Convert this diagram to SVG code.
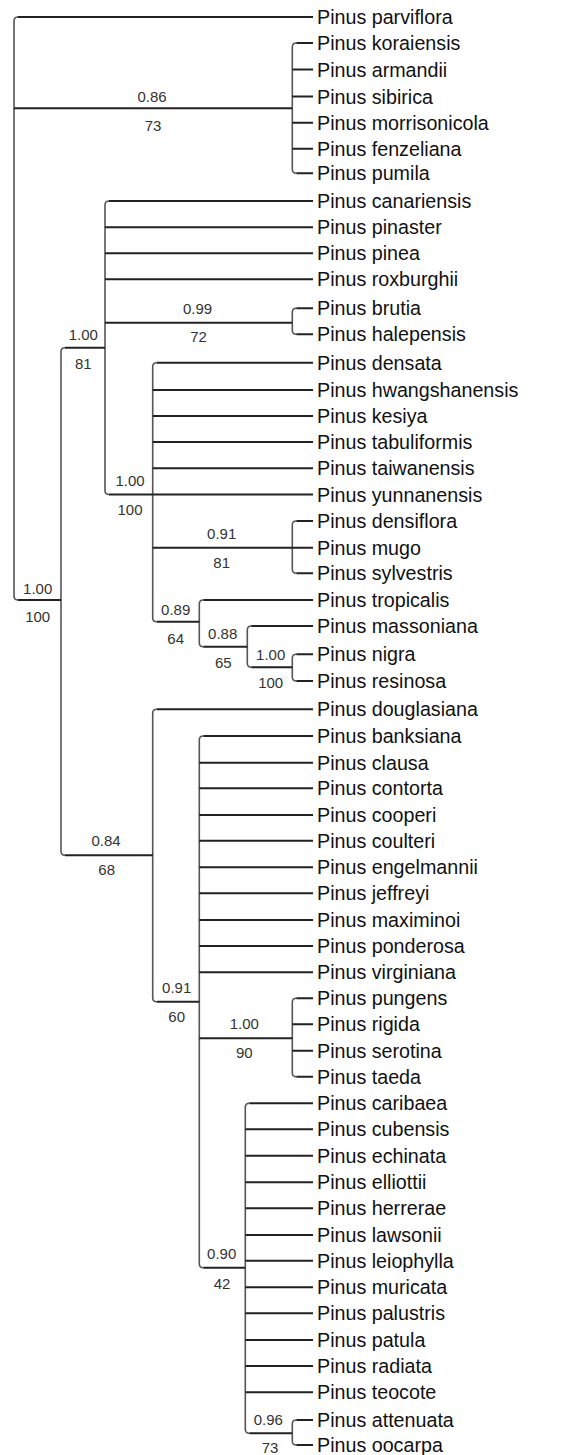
<svg xmlns="http://www.w3.org/2000/svg" width="567" height="1455" viewBox="0 0 567 1455">
<style>
.h{fill:none;stroke:#222;stroke-width:2;stroke-linecap:butt}
.v{fill:none;stroke:#555;stroke-width:1.6}
.leaf text{font-family:"Liberation Sans",Arial,sans-serif;font-size:19.7px;fill:#111}
.sup text{font-family:"Liberation Sans",Arial,sans-serif;font-size:15px;fill:#333;text-anchor:middle}
</style>
<rect width="567" height="1455" fill="#fff"/>
<g id="connectors">
<!-- verticals with rounded corners -->
<path class="v" d="M18,17 Q14,17 14,21 V596 Q14,600 18,600"/>
<path class="v" d="M296.3,43 Q292.3,43 292.3,47 V169.3 Q292.3,173.3 296.3,173.3"/>
<path class="v" d="M65,347.7 Q61,347.7 61,351.7 V851.3 Q61,855.3 65,855.3"/>
<path class="v" d="M109,201 Q105,201 105,205 V490.5 Q105,494.5 109,494.5"/>
<path class="v" d="M296.3,308.3 Q292.3,308.3 292.3,312.3 V330.3 Q292.3,334.3 296.3,334.3"/>
<path class="v" d="M156.7,362.7 Q152.7,362.7 152.7,366.7 V617.7 Q152.7,621.7 156.7,621.7"/>
<path class="v" d="M296.3,521 Q292.3,521 292.3,525 V569.3 Q292.3,573.3 296.3,573.3"/>
<path class="v" d="M203.3,600 Q199.3,600 199.3,604 V642.7 Q199.3,646.7 203.3,646.7"/>
<path class="v" d="M251.3,626 Q247.3,626 247.3,630 V663.3 Q247.3,667.3 251.3,667.3"/>
<path class="v" d="M296.3,654.3 Q292.3,654.3 292.3,658.3 V677 Q292.3,681 296.3,681"/>
<path class="v" d="M156.7,709.3 Q152.7,709.3 152.7,713.3 V997.7 Q152.7,1001.7 156.7,1001.7"/>
<path class="v" d="M203.3,736 Q199.3,736 199.3,740 V1263.7 Q199.3,1267.7 203.3,1267.7"/>
<path class="v" d="M296.3,998.3 Q292.3,998.3 292.3,1002.3 V1072.7 Q292.3,1076.7 296.3,1076.7"/>
<path class="v" d="M249.3,1103.3 Q245.3,1103.3 245.3,1107.3 V1429.3 Q245.3,1433.3 249.3,1433.3"/>
<path class="v" d="M296.3,1420 Q292.3,1420 292.3,1424 V1441 Q292.3,1445 296.3,1445"/>
<!-- internal horizontals -->
<path class="h" d="M14,108.3 H292.3"/>
<path class="h" d="M18,600 H61"/>
<path class="h" d="M65,347.7 H105"/>
<path class="h" d="M65,855.3 H152.7"/>
<path class="h" d="M105,322.7 H292.3"/>
<path class="h" d="M109,494.5 H152.7"/>
<path class="h" d="M152.7,547.7 H292.3"/>
<path class="h" d="M156.7,621.7 H199.3"/>
<path class="h" d="M203.3,646.7 H247.3"/>
<path class="h" d="M251.3,667.3 H292.3"/>
<path class="h" d="M156.7,1001.7 H199.3"/>
<path class="h" d="M199.3,1038.3 H292.3"/>
<path class="h" d="M203.3,1267.7 H245.3"/>
<path class="h" d="M249.3,1433.3 H292.3"/>
<!-- leaf horizontals -->
<path class="h" d="M18,17 H313"/>
<path class="h" d="M296.3,43 H313 M292.3,69.5 H313 M292.3,96.5 H313 M292.3,122.7 H313 M292.3,148.7 H313 M296.3,173.3 H313"/>
<path class="h" d="M109,201 H313 M105,227.3 H313 M105,253.3 H313 M105,279.3 H313"/>
<path class="h" d="M296.3,308.3 H313 M296.3,334.3 H313"/>
<path class="h" d="M156.7,362.7 H313 M152.7,390 H313 M152.7,416 H313 M152.7,442 H313 M152.7,468.3 H313 M152.7,494.5 H313"/>
<path class="h" d="M296.3,521 H313 M292.3,547.7 H313 M296.3,573.3 H313"/>
<path class="h" d="M203.3,600 H313 M251.3,626 H313 M296.3,654.3 H313 M296.3,681 H313"/>
<path class="h" d="M156.7,709.3 H313"/>
<path class="h" d="M203.3,736 H313 M199.3,762.7 H313 M199.3,788.3 H313 M199.3,815 H313 M199.3,840.7 H313 M199.3,867.3 H313 M199.3,893.3 H313 M199.3,920 H313 M199.3,946 H313 M199.3,972.3 H313"/>
<path class="h" d="M296.3,998.3 H313 M292.3,1024.3 H313 M292.3,1050.7 H313 M296.3,1076.7 H313"/>
<path class="h" d="M249.3,1103.3 H313 M245.3,1129.3 H313 M245.3,1155.7 H313 M245.3,1182.3 H313 M245.3,1208.3 H313 M245.3,1235 H313 M245.3,1260.7 H313 M245.3,1287.3 H313 M245.3,1313.3 H313 M245.3,1340 H313 M245.3,1366 H313 M245.3,1392.3 H313"/>
<path class="h" d="M296.3,1420 H313 M296.3,1445 H313"/>
</g>
<g class="leaf">
<g id="parviflora"><text x="317" y="24">Pinus parviflora</text></g>
<g id="koraiensis"><text x="317" y="50">Pinus koraiensis</text></g>
<g id="armandii"><text x="317" y="76.5">Pinus armandii</text></g>
<g id="sibirica"><text x="317" y="103.5">Pinus sibirica</text></g>
<g id="morrisonicola"><text x="317" y="129.7">Pinus morrisonicola</text></g>
<g id="fenzeliana"><text x="317" y="155.7">Pinus fenzeliana</text></g>
<g id="pumila"><text x="317" y="180.3">Pinus pumila</text></g>
<g id="canariensis"><text x="317" y="208">Pinus canariensis</text></g>
<g id="pinaster"><text x="317" y="234.3">Pinus pinaster</text></g>
<g id="pinea"><text x="317" y="260.3">Pinus pinea</text></g>
<g id="roxburghii"><text x="317" y="286.3">Pinus roxburghii</text></g>
<g id="brutia"><text x="317" y="315.3">Pinus brutia</text></g>
<g id="halepensis"><text x="317" y="341.3">Pinus halepensis</text></g>
<g id="densata"><text x="317" y="369.7">Pinus densata</text></g>
<g id="hwangshanensis"><text x="317" y="397">Pinus hwangshanensis</text></g>
<g id="kesiya"><text x="317" y="423">Pinus kesiya</text></g>
<g id="tabuliformis"><text x="317" y="449">Pinus tabuliformis</text></g>
<g id="taiwanensis"><text x="317" y="475.3">Pinus taiwanensis</text></g>
<g id="yunnanensis"><text x="317" y="501.5">Pinus yunnanensis</text></g>
<g id="densiflora"><text x="317" y="528">Pinus densiflora</text></g>
<g id="mugo"><text x="317" y="554.7">Pinus mugo</text></g>
<g id="sylvestris"><text x="317" y="580.3">Pinus sylvestris</text></g>
<g id="tropicalis"><text x="317" y="607">Pinus tropicalis</text></g>
<g id="massoniana"><text x="317" y="633">Pinus massoniana</text></g>
<g id="nigra"><text x="317" y="661.3">Pinus nigra</text></g>
<g id="resinosa"><text x="317" y="688">Pinus resinosa</text></g>
<g id="douglasiana"><text x="317" y="716.3">Pinus douglasiana</text></g>
<g id="banksiana"><text x="317" y="743">Pinus banksiana</text></g>
<g id="clausa"><text x="317" y="769.7">Pinus clausa</text></g>
<g id="contorta"><text x="317" y="795.3">Pinus contorta</text></g>
<g id="cooperi"><text x="317" y="822">Pinus cooperi</text></g>
<g id="coulteri"><text x="317" y="847.7">Pinus coulteri</text></g>
<g id="engelmannii"><text x="317" y="874.3">Pinus engelmannii</text></g>
<g id="jeffreyi"><text x="317" y="900.3">Pinus jeffreyi</text></g>
<g id="maximinoi"><text x="317" y="927">Pinus maximinoi</text></g>
<g id="ponderosa"><text x="317" y="953">Pinus ponderosa</text></g>
<g id="virginiana"><text x="317" y="979.3">Pinus virginiana</text></g>
<g id="pungens"><text x="317" y="1005.3">Pinus pungens</text></g>
<g id="rigida"><text x="317" y="1031.3">Pinus rigida</text></g>
<g id="serotina"><text x="317" y="1057.7">Pinus serotina</text></g>
<g id="taeda"><text x="317" y="1083.7">Pinus taeda</text></g>
<g id="caribaea"><text x="317" y="1110.3">Pinus caribaea</text></g>
<g id="cubensis"><text x="317" y="1136.3">Pinus cubensis</text></g>
<g id="echinata"><text x="317" y="1162.7">Pinus echinata</text></g>
<g id="elliottii"><text x="317" y="1189.3">Pinus elliottii</text></g>
<g id="herrerae"><text x="317" y="1215.3">Pinus herrerae</text></g>
<g id="lawsonii"><text x="317" y="1242">Pinus lawsonii</text></g>
<g id="leiophylla"><text x="317" y="1267.7">Pinus leiophylla</text></g>
<g id="muricata"><text x="317" y="1294.3">Pinus muricata</text></g>
<g id="palustris"><text x="317" y="1320.3">Pinus palustris</text></g>
<g id="patula"><text x="317" y="1347">Pinus patula</text></g>
<g id="radiata"><text x="317" y="1373">Pinus radiata</text></g>
<g id="teocote"><text x="317" y="1399.3">Pinus teocote</text></g>
<g id="attenuata"><text x="317" y="1427">Pinus attenuata</text></g>
<g id="oocarpa"><text x="317" y="1452">Pinus oocarpa</text></g>
</g>
<g class="sup">
<g id="n_white"><text x="152" y="102">0.86</text><text x="153" y="130.5">73</text></g>
<g id="n_brutia"><text x="197.5" y="313.5">0.99</text><text x="198.5" y="342">72</text></g>
<g id="n_81"><text x="83.3" y="339.5">1.00</text><text x="83.3" y="368.5">81</text></g>
<g id="n_100a"><text x="130" y="485.5">1.00</text><text x="130" y="514.5">100</text></g>
<g id="n_densiflora"><text x="221.7" y="538.5">0.91</text><text x="221.7" y="567.5">81</text></g>
<g id="n_root"><text x="37.7" y="593.5">1.00</text><text x="37.7" y="622">100</text></g>
<g id="n_089"><text x="175.7" y="614.5">0.89</text><text x="175.7" y="643.5">64</text></g>
<g id="n_088"><text x="222.7" y="638.5">0.88</text><text x="223.3" y="668">65</text></g>
<g id="n_nigra"><text x="270.7" y="659.5">1.00</text><text x="270.7" y="688">100</text></g>
<g id="n_084"><text x="106" y="846">0.84</text><text x="106.7" y="875">68</text></g>
<g id="n_091"><text x="176.7" y="993">0.91</text><text x="176.7" y="1022">60</text></g>
<g id="n_pungens"><text x="244.3" y="1028.5">1.00</text><text x="244.3" y="1057.5">90</text></g>
<g id="n_090"><text x="221.7" y="1259">0.90</text><text x="222" y="1288.5">42</text></g>
<g id="n_attenuata"><text x="268.3" y="1424.5">0.96</text><text x="270" y="1452.5">73</text></g>
</g>
</svg>
